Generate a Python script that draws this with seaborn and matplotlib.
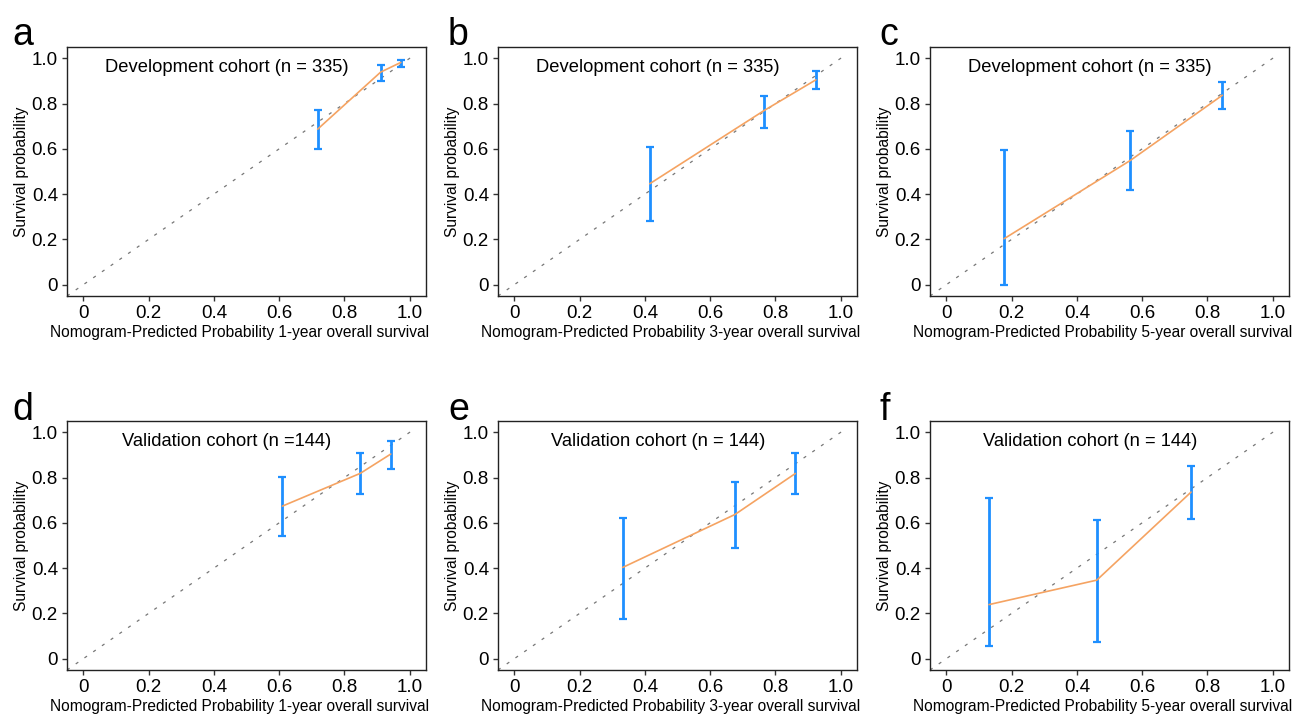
import numpy as np
import pandas as pd
import matplotlib
matplotlib.use("Agg")
import matplotlib.pyplot as plt
import seaborn as sns

sns.set_theme(style="ticks")
plt.rcParams['font.family'] = ['Liberation Sans', 'DejaVu Sans']
plt.rcParams['text.color'] = 'black'
plt.rcParams['axes.labelcolor'] = 'black'
plt.rcParams['xtick.color'] = 'black'
plt.rcParams['ytick.color'] = 'black'

# ---- data ----
panel_letters = ["a", "b", "c", "d", "e", "f"]
cohort_labels = ["Development cohort (n = 335)", "Development cohort (n = 335)",
                 "Development cohort (n = 335)", "Validation cohort (n =144)",
                 "Validation cohort (n = 144)", "Validation cohort (n = 144)"]
xlabels = ["Nomogram-Predicted Probability 1-year overall survival",
           "Nomogram-Predicted Probability 3-year overall survival",
           "Nomogram-Predicted Probability 5-year overall survival",
           "Nomogram-Predicted Probability 1-year overall survival",
           "Nomogram-Predicted Probability 3-year overall survival",
           "Nomogram-Predicted Probability 5-year overall survival"]

pred_a = [0.718, 0.911, 0.973]
obs_a = [0.687, 0.939, 0.982]
lo_a = [0.599, 0.902, 0.963]
hi_a = [0.772, 0.969, 0.994]

pred_b = [0.415, 0.765, 0.924]
obs_b = [0.446, 0.769, 0.905]
lo_b = [0.281, 0.694, 0.865]
hi_b = [0.608, 0.835, 0.942]

pred_c = [0.177, 0.564, 0.846]
obs_c = [0.203, 0.549, 0.837]
lo_c = [0.000, 0.417, 0.778]
hi_c = [0.595, 0.679, 0.896]

pred_d = [0.610, 0.849, 0.942]
obs_d = [0.674, 0.819, 0.904]
lo_d = [0.543, 0.727, 0.838]
hi_d = [0.801, 0.910, 0.962]

pred_e = [0.332, 0.676, 0.861]
obs_e = [0.403, 0.637, 0.818]
lo_e = [0.176, 0.489, 0.727]
hi_e = [0.621, 0.781, 0.907]

pred_f = [0.131, 0.461, 0.750]
obs_f = [0.239, 0.347, 0.736]
lo_f = [0.056, 0.075, 0.619]
hi_f = [0.711, 0.614, 0.853]

ticks = [0, 0.2, 0.4, 0.6, 0.8, 1.0]
tick_labels = ["0", "0.2", "0.4", "0.6", "0.8", "1.0"]

panels = [(pred_a, obs_a, lo_a, hi_a), (pred_b, obs_b, lo_b, hi_b),
          (pred_c, obs_c, lo_c, hi_c), (pred_d, obs_d, lo_d, hi_d),
          (pred_e, obs_e, lo_e, hi_e), (pred_f, obs_f, lo_f, hi_f)]

W, H = 1297, 715
fig = plt.figure(figsize=(W / 100, H / 100), dpi=100)

col_left = [67, 498, 930]
row_top = [47, 421]
ax_w, ax_h = 359, 249
letter_x = [12, 448, 879]
letter_base = [45, 420]

for i, (pred, obs, lo, hi) in enumerate(panels):
    r, c = divmod(i, 3)
    left = col_left[c] / W
    bottom = 1 - (row_top[r] + ax_h) / H
    ax = fig.add_axes([left, bottom, ax_w / W, ax_h / H])
    df = pd.DataFrame({"pred": pred, "obs": obs})
    # diagonal reference line
    ax.plot([-0.05, 1.02], [-0.05, 1.02], color="#777777", lw=0.9,
            linestyle=(0, (2.5, 6)), zorder=1)
    ax.errorbar(pred, obs, yerr=[np.array(obs) - np.array(lo), np.array(hi) - np.array(obs)],
                fmt="none", ecolor="#1E8FFF", elinewidth=2.0, capsize=3, capthick=1.6, zorder=3)
    sns.lineplot(data=df, x="pred", y="obs", ax=ax, color="#F5A362", lw=1.2,
                 sort=True, zorder=4)
    ax.set_xlim(-0.05, 1.05)
    ax.set_ylim(-0.05, 1.05)
    ax.set_xticks(ticks)
    ax.set_xticklabels(tick_labels)
    ax.set_yticks(ticks)
    ax.set_yticklabels(tick_labels)
    ax.tick_params(axis="both", labelsize=13.5, length=3.5, width=1, color="#333333",
                   pad=3, direction="out")
    for s in ax.spines.values():
        s.set_color("#222222")
        s.set_linewidth(1.0)
    ax.set_xlabel(xlabels[i], fontsize=11.2)
    ax.xaxis.set_label_coords(0.5 - 7 / ax_w, -0.115)
    ax.set_ylabel("Survival probability", fontsize=11.2, labelpad=2)
    ax.text(0.44, 0.96, cohort_labels[i], fontsize=13.2, ha="center", va="center")
    fig.text(letter_x[c] / W, 1 - letter_base[r] / H, panel_letters[i],
             fontsize=27, ha="left", va="baseline", color="black")

fig.savefig("out.png", dpi=100)
